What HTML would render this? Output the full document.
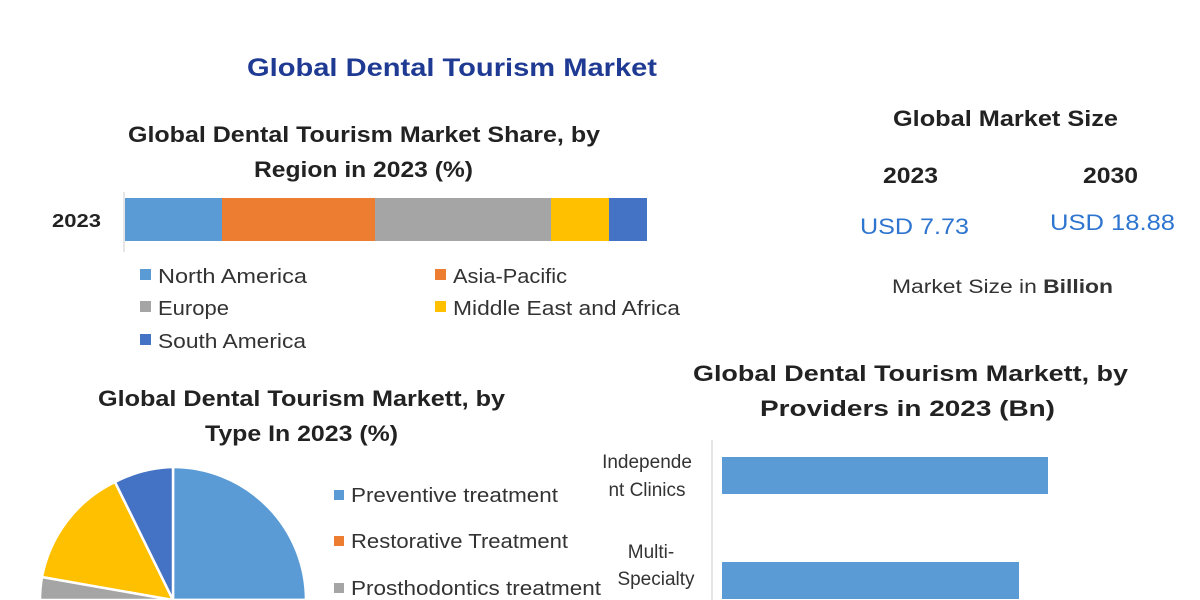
<!DOCTYPE html>
<html><head><style>
html,body{margin:0;background:#fff;width:1200px;height:600px;overflow:hidden;}
svg{display:block;}
svg text{font-family:"Liberation Sans",sans-serif;}
</style></head><body>
<svg width="1200" height="600" xmlns="http://www.w3.org/2000/svg">
<rect width="1200" height="600" fill="#fff"/>
<text x="247" y="76" font-size="25" font-weight="bold" fill="#1f3a93" textLength="410" lengthAdjust="spacingAndGlyphs">Global Dental Tourism Market</text>
<text x="128" y="142" font-size="22" font-weight="bold" fill="#222" textLength="472" lengthAdjust="spacingAndGlyphs">Global Dental Tourism Market Share, by</text>
<text x="254" y="177" font-size="22" font-weight="bold" fill="#222" textLength="219" lengthAdjust="spacingAndGlyphs">Region in 2023 (%)</text>
<line x1="124" y1="192" x2="124" y2="252" stroke="#ccc"/>
<text x="52" y="227" font-size="18" font-weight="bold" fill="#222" textLength="49" lengthAdjust="spacingAndGlyphs">2023</text>
<rect x="125" y="198" width="97" height="43" fill="#5b9bd5"/>
<rect x="222" y="198" width="153" height="43" fill="#ed7d31"/>
<rect x="375" y="198" width="176" height="43" fill="#a5a5a5"/>
<rect x="551" y="198" width="58" height="43" fill="#ffc000"/>
<rect x="609" y="198" width="38" height="43" fill="#4472c4"/>
<g font-size="20" fill="#333">
<rect x="140" y="269" width="11" height="11" fill="#5b9bd5"/><text x="158" y="283" textLength="149" lengthAdjust="spacingAndGlyphs">North America</text>
<rect x="435" y="269" width="11" height="11" fill="#ed7d31"/><text x="453" y="283" textLength="114" lengthAdjust="spacingAndGlyphs">Asia-Pacific</text>
<rect x="140" y="301" width="11" height="11" fill="#a5a5a5"/><text x="158" y="315" textLength="71" lengthAdjust="spacingAndGlyphs">Europe</text>
<rect x="435" y="301" width="11" height="11" fill="#ffc000"/><text x="453" y="315" textLength="227" lengthAdjust="spacingAndGlyphs">Middle East and Africa</text>
<rect x="140" y="334" width="11" height="11" fill="#4472c4"/><text x="158" y="348" textLength="148" lengthAdjust="spacingAndGlyphs">South America</text>
</g>
<text x="893" y="126" font-size="22" font-weight="bold" fill="#222" textLength="225" lengthAdjust="spacingAndGlyphs">Global Market Size</text>
<text x="883" y="183" font-size="22" font-weight="bold" fill="#222" textLength="55" lengthAdjust="spacingAndGlyphs">2023</text>
<text x="1083" y="183" font-size="22" font-weight="bold" fill="#222" textLength="55" lengthAdjust="spacingAndGlyphs">2030</text>
<text x="860" y="234" font-size="22" fill="#2e75d0" textLength="109" lengthAdjust="spacingAndGlyphs">USD 7.73</text>
<text x="1050" y="230" font-size="22" fill="#2e75d0" textLength="125" lengthAdjust="spacingAndGlyphs">USD 18.88</text>
<text x="892" y="293" font-size="19" fill="#333" textLength="221" lengthAdjust="spacingAndGlyphs">Market Size in <tspan font-weight="bold">Billion</tspan></text>
<text x="98" y="406" font-size="22" font-weight="bold" fill="#222" textLength="407" lengthAdjust="spacingAndGlyphs">Global Dental Tourism Markett, by</text>
<text x="205" y="441" font-size="22" font-weight="bold" fill="#222" textLength="193" lengthAdjust="spacingAndGlyphs">Type In 2023 (%)</text>
<g stroke="#fff" stroke-width="2.5">
<path d="M173,600 L173,467 A133,133 0 0 1 306,600 Z" fill="#5b9bd5"/>
<path d="M173,600 L306,600 A133,133 0 0 1 40,600 Z" fill="#ed7d31"/>
<path d="M173,600 L40,600 A133,133 0 0 1 42,577 Z" fill="#a5a5a5"/>
<path d="M173,600 L42,577 A133,133 0 0 1 115,482 Z" fill="#ffc000"/>
<path d="M173,600 L115,482 A133,133 0 0 1 173,467 Z" fill="#4472c4"/>
</g>
<g font-size="20" fill="#333">
<rect x="334" y="490" width="10" height="10" fill="#5b9bd5"/><text x="351" y="502" textLength="207" lengthAdjust="spacingAndGlyphs">Preventive treatment</text>
<rect x="334" y="536" width="10" height="10" fill="#ed7d31"/><text x="351" y="548" textLength="217" lengthAdjust="spacingAndGlyphs">Restorative Treatment</text>
<rect x="334" y="583" width="10" height="10" fill="#a5a5a5"/><text x="351" y="595" textLength="250" lengthAdjust="spacingAndGlyphs">Prosthodontics treatment</text>
</g>
<text x="693" y="381" font-size="22" font-weight="bold" fill="#222" textLength="435" lengthAdjust="spacingAndGlyphs">Global Dental Tourism Markett, by</text>
<text x="760" y="416" font-size="22" font-weight="bold" fill="#222" textLength="295" lengthAdjust="spacingAndGlyphs">Providers in 2023 (Bn)</text>
<line x1="712" y1="440" x2="712" y2="600" stroke="#ccc"/>
<g font-size="19" fill="#333" text-anchor="middle">
<text x="647" y="468">Independe</text>
<text x="647" y="496">nt Clinics</text>
<text x="651" y="558">Multi-</text>
<text x="656" y="585">Specialty</text>
</g>
<rect x="722" y="457" width="326" height="37" fill="#5b9bd5"/>
<rect x="722" y="562" width="297" height="37" fill="#5b9bd5"/>
</svg>
</body></html>
